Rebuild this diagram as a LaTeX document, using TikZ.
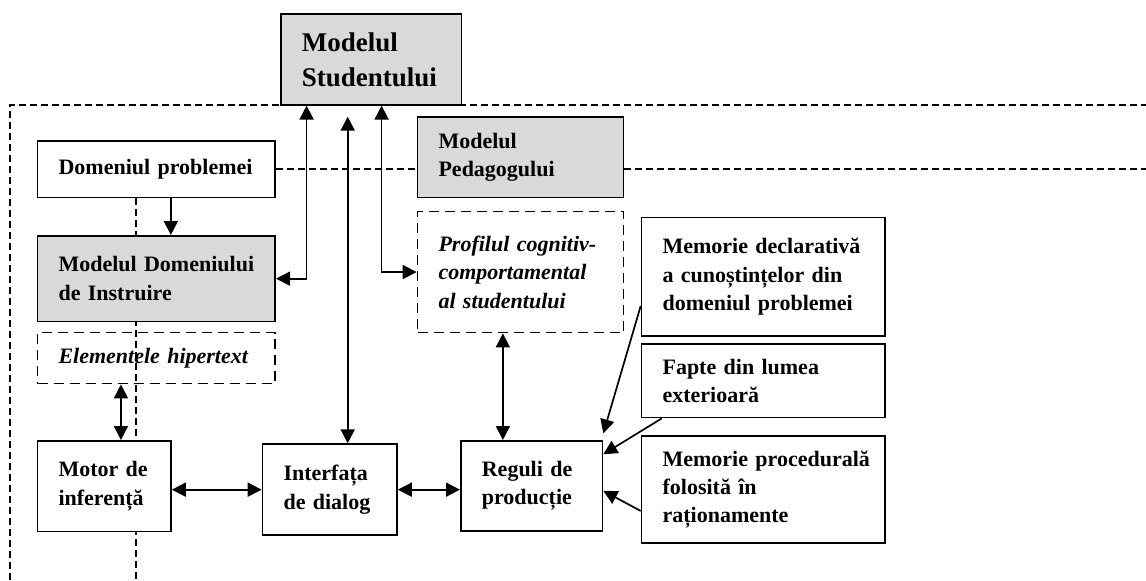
\documentclass[tikz,border=0pt]{standalone}
\usepackage{fontspec}
\setmainfont{Liberation Serif}
\usetikzlibrary{arrows.meta,backgrounds}
\definecolor{modelgray}{HTML}{D9D9D9}
\tikzset{
    every node/.style={font=\bfseries\fontsize{11}{14.2}\selectfont},
    blok/.style={draw,line width=0.85pt,fill=white,anchor=north west,align=left,inner xsep=10.5pt,inner ysep=0pt},
    model/.style={blok,fill=modelgray},
    aux/.style={blok,fill=none,dash pattern=on 5pt off 3pt,font=\bfseries\itshape\fontsize{11}{14.2}\selectfont},
    sag/.style={line width=0.85pt,-{Triangle[length=7pt,width=7pt]}},
    dublu/.style={line width=0.85pt,{Triangle[length=7pt,width=7pt]}-{Triangle[length=7pt,width=7pt]}},
    granita/.style={line width=0.7pt,dash pattern=on 3.3pt off 2.2pt}
}
\begin{document}
\begin{tikzpicture}[x=0.5pt,y=-0.5pt]
\useasboundingbox (0,0) rectangle (1146,580);
% modelele
\node[model,text width=69.3pt,minimum height=45.3pt,font=\bfseries\fontsize{13.5}{17.5}\selectfont] (ms) at (280,13.3) {Modelul\\ Studentului};
\node[model,text width=82pt,minimum height=40.3pt] (pg) at (416.7,116) {Modelul\\ Pedagogului};
\node[blok,text width=97.8pt,minimum height=28.3pt] (dp) at (36.7,140) {Domeniul~problemei};
\node[model,text width=97.8pt,minimum height=42.8pt] (md) at (36.7,235) {Modelul~Domeniului\\ de~Instruire};
\node[aux,text width=97.8pt,minimum height=25.5pt] (eh) at (36.7,331.7) {Elementele~hipertext};
\node[aux,text width=82pt,minimum height=60.5pt] (pf) at (416.7,210.7) {Profilul~cognitiv-\\ comportamental\\ al~studentului};
% blocurile de jos
\node[blok,text width=45.7pt,minimum height=45.3pt] (mi) at (36.7,440) {Motor~de\\ inferență};
\node[blok,text width=46.2pt,minimum height=45.5pt] (id) at (261.7,443.3) {Interfața\\ de~dialog};
\node[blok,text width=49.8pt,minimum height=45pt] (rp) at (460,440) {Reguli~de\\ producție};
% memoriile
\node[blok,text width=100.8pt,minimum height=59.2pt] (memd) at (640.7,216.7) {\mbox{Memorie declarativă}\\ \mbox{a cunoștințelor din}\\ \mbox{domeniul problemei}};
\node[blok,text width=100.8pt,minimum height=36.7pt] (fa) at (640.7,343.3) {Fapte~din~lumea\\ exterioară};
\node[blok,text width=100.8pt,minimum height=53.7pt] (mp) at (640.7,435) {\mbox{Memorie procedurală}\\ folosită~în\\ \mbox{raționamente}};
\coordinate (stv) at (347.7,116.7);
\coordinate (dreapta) at (1146,0);
\coordinate (jos) at (0,580);
% linii punctate
\begin{scope}[on background layer]
\draw[granita] (10,580) |- (1146,105);
\draw[granita] (dp.east) -- (dp.east -| pg.west);
\draw[granita] (pg.east |- dp.east) -- (dp.east -| dreapta);
\draw[granita] ([xshift=-10.25pt]dp.south) -- ([xshift=-10.25pt]dp.south |- jos);
\end{scope}
% legaturi
\draw[sag] ([xshift=7.25pt]dp.south) -- ([xshift=7.25pt]dp.south |- md.north);
\draw[dublu] ([xshift=13.3pt]ms.south west) |- (md.east);
\draw[dublu] ([xshift=50.8pt]ms.south west) |- (pf.west);
\draw[dublu] (stv) -- (stv |- id.north);
\draw[dublu] ([xshift=8.35pt]mi.north) -- ([xshift=8.35pt]mi.north |- eh.south);
\draw[dublu] (mi.east |- id.west) -- (id.west);
\draw[dublu] (id.east) -- (id.east -| rp.west);
\draw[dublu] ([xshift=-8.85pt]pf.south) -- ([xshift=-8.85pt]pf.south |- rp.north);
\draw[sag] ([yshift=-14.6pt]memd.west) -- ([yshift=3.3pt]rp.north east);
\draw[sag] ([xshift=10.5pt]fa.south west) -- ([yshift=15.8pt]rp.east);
\draw[sag] ([yshift=-10.7pt]mp.west) -- ([yshift=-2.5pt]rp.east);
\end{tikzpicture}
\end{document}
